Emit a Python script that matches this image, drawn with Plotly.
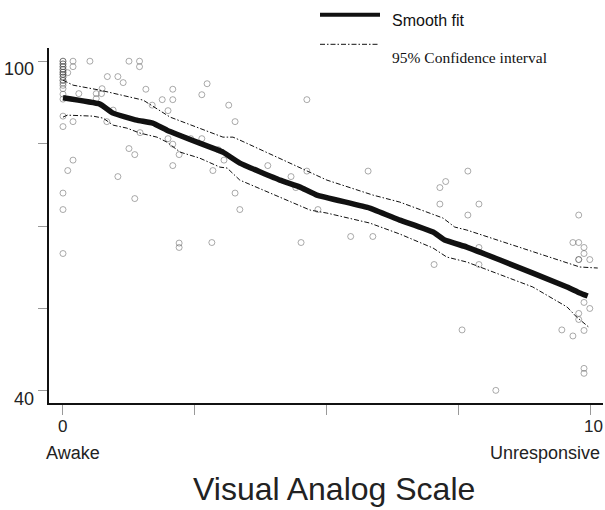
import plotly.graph_objects as go

# ---- data ----
pts_x = [0]*18 + [0]*8 + [
    0.19, 0.19, 0.09, 0.51, 1.25, 1.45, 1.45, 0.84, 1.04, 1.14, 0.74, 1.57, 2.08, 0.30, 0.63, 0.73,
    0.63, 1.88, 2.08, 1.69, 1.99, 0.95, 0.19, 0.83, 1.46, 1.99, 2.42, 2.63, 2.08, 1.25, 1.36, 2.20,
    0.19, 0.09, 2.08, 1.04, 2.73, 2.63, 3.14, 3.26, 2.94, 3.05, 2.84, 4.62, 3.88, 4.32, 4.62, 5.78,
    4.41, 3.26, 3.35, 2.82, 4.51, 4.83, 5.45, 5.87, 1.36, 2.20, 2.20, 7.67, 7.25, 7.14, 7.14, 7.88,
    7.67, 7.88, 7.03, 7.88, 9.77, 9.66, 9.77, 9.87, 9.87, 9.77, 9.77, 9.98, 9.87, 9.98, 9.77, 9.77,
    9.87, 9.45, 9.66, 7.56, 9.87, 9.87, 8.20]
pts_y = [100, 99.5, 99, 98.5, 98, 97.6, 97.1, 96.5, 96, 95.6, 95, 94, 93.1, 90, 88.1, 76, 73, 65,
         100, 99.5, 99, 98.5, 98, 97.6, 97.1, 96.5] + [
    100, 99.0, 97.9, 100, 100, 100, 99.0, 97.2, 97.2, 96.1, 95.0, 94.9, 94.9, 94.1, 94.1, 94.1,
    93.2, 93.0, 93.0, 92.0, 91.0, 91.1, 89.0, 89.0, 87.0, 85.9, 85.9, 85.9, 84.9, 84.1, 83.0, 83.0,
    82.0, 80.1, 81.0, 79.0, 95.9, 93.9, 92.0, 89.0, 83.9, 82.0, 80.1, 93.0, 81.0, 79.0, 80.0, 80.0,
    77.0, 76.0, 73.0, 67.0, 67.0, 73.0, 68.1, 68.1, 75.0, 66.9, 66.1, 80.0, 78.1, 77.0, 74.0, 74.0,
    72.0, 66.1, 63.0, 63.0, 72.0, 67.0, 67.0, 66.1, 65.0, 63.9, 63.9, 63.9, 56.1, 55.0, 54.1, 53.0,
    51.0, 51.1, 50.0, 51.1, 44.1, 43.2, 40.1]

fit_x = [0, 0.70, 0.95, 1.40, 1.70, 1.97, 2.59, 2.94, 3.03, 3.35, 4.11, 4.49, 4.81, 5.81, 6.38,
         7.01, 7.23, 7.65, 8.28, 9.55, 9.79, 9.94]
fit_y = [93.33, 92.18, 90.55, 89.27, 88.73, 87.45, 85.09, 83.82, 83.45, 81.45, 78.36, 77.09, 75.64,
         73.27, 71.09, 68.91, 67.45, 66.18, 63.82, 58.91, 57.82, 57.27]

up_x = [0, 0.19, 0.70, 1.52, 2.03, 2.59, 3.03, 3.22, 3.35, 5.0, 5.87, 6.38, 7.20, 7.42, 7.65, 9.79, 10.13]
up_y = [96.55, 95.64, 94.73, 92.91, 89.82, 87.82, 86.18, 86.18, 85.64, 78.36, 75.64, 74.36, 71.45,
        69.82, 69.27, 62.55, 62.36]

lo_x = [0, 0.08, 0.57, 0.76, 0.95, 1.21, 1.46, 1.78, 1.97, 2.22, 2.59, 2.97, 3.11, 3.35, 4.68, 5.0,
        5.81, 6.38, 7.01, 7.27, 7.65, 8.90, 9.55, 9.73, 9.98]
lo_y = [89.82, 90.18, 90.0, 89.64, 88.36, 87.82, 86.91, 86.18, 85.27, 83.45, 82.36, 80.73, 80.55,
        78.36, 72.91, 72.36, 70.55, 68.55, 66.0, 64.36, 63.45, 58.91, 55.27, 53.45, 51.45]

y_ticks = [40, 55, 70, 85, 100]
x_ticks = [0, 2.5, 5, 7.5, 10]

SANS = "Liberation Sans, Arial, sans-serif"
SERIF = "Liberation Serif, Times New Roman, serif"

fig = go.Figure()
fig.add_trace(go.Scatter(x=pts_x, y=pts_y, mode="markers",
                         marker=dict(symbol="circle-open", size=6, color="#444",
                                     opacity=0.5, line=dict(width=0.9)),
                         showlegend=False, hoverinfo="skip"))
dash = "5px,2px,1.5px,2px"
fig.add_trace(go.Scatter(x=up_x, y=up_y, mode="lines",
                         line=dict(color="#111", width=1, dash=dash), showlegend=False))
fig.add_trace(go.Scatter(x=lo_x, y=lo_y, mode="lines",
                         line=dict(color="#111", width=1, dash=dash), showlegend=False))
fig.add_trace(go.Scatter(x=fit_x, y=fit_y, mode="lines",
                         line=dict(color="#111", width=5.5, shape="spline", smoothing=0.3),
                         showlegend=False))

L, R, T, B = 49, 2, 48, 107
W, H = 605, 510
pw, ph = W - L - R, H - T - B


def px(xp):
    return (xp - L) / pw


def py(yp):
    return (H - B - yp) / ph


fig.update_layout(
    width=W, height=H,
    margin=dict(l=L, r=R, t=T, b=B, autoexpand=False),
    paper_bgcolor="white", plot_bgcolor="white",
    showlegend=False,
    xaxis=dict(range=[-0.265, 10.23], tickvals=x_ticks, ticktext=[""] * 5,
               ticks="outside", ticklen=10, tickcolor="#999", tickwidth=1,
               showline=True, linecolor="#111", linewidth=1.5,
               showgrid=False, zeroline=False),
    yaxis=dict(range=[37.8, 102.4], tickvals=y_ticks, ticktext=[""] * 5,
               ticks="outside", ticklen=9, tickcolor="#999", tickwidth=1,
               showline=True, linecolor="#111", linewidth=1.5,
               showgrid=False, zeroline=False),
    shapes=[
        dict(type="line", xref="paper", yref="paper", x0=px(320), x1=px(380), y0=py(14.7), y1=py(14.7),
             line=dict(color="#111", width=4)),
        dict(type="line", xref="paper", yref="paper", x0=px(320), x1=px(378), y0=py(44.3), y1=py(44.3),
             line=dict(color="#111", width=1, dash=dash)),
    ],
)

ann = []
# y tick labels
for v, t in [(100, "100"), (40, "40")]:
    ann.append(dict(xref="paper", yref="y", x=px(36), y=v, yshift=-8, text=t, showarrow=False,
                    xanchor="right", yanchor="middle", font=dict(family=SANS, size=18, color="#222")))
# x tick labels
ann.append(dict(xref="x", yref="paper", x=0, y=0, yshift=-23, text="0", showarrow=False,
                xanchor="center", yanchor="middle", font=dict(family=SANS, size=17, color="#222")))
ann.append(dict(xref="x", yref="paper", x=10, y=0, xshift=3, yshift=-23, text="10", showarrow=False,
                xanchor="center", yanchor="middle", font=dict(family=SANS, size=17, color="#222")))
ann.append(dict(xref="paper", yref="paper", x=px(44), y=0, yshift=-50, text="Awake", showarrow=False,
                xanchor="left", yanchor="middle", font=dict(family=SANS, size=18, color="#222")))
ann.append(dict(xref="paper", yref="paper", x=px(602), y=0, yshift=-50, text="Unresponsive",
                showarrow=False, xanchor="right", yanchor="middle",
                font=dict(family=SANS, size=18, color="#222")))
ann.append(dict(xref="paper", yref="paper", x=px(334), y=0, yshift=-86, text="Visual Analog Scale",
                showarrow=False, xanchor="center", yanchor="middle",
                font=dict(family=SANS, size=32, color="#222")))
# legend texts
ann.append(dict(xref="paper", yref="paper", x=px(390), y=py(20), text="Smooth fit", showarrow=False,
                xanchor="left", yanchor="middle", font=dict(family=SANS, size=16, color="#111")))
ann.append(dict(xref="paper", yref="paper", x=px(390), y=py(58), text="95% Confidence interval",
                showarrow=False, xanchor="left", yanchor="middle",
                font=dict(family=SERIF, size=15.5, color="#111")))
fig.update_layout(annotations=ann)

fig.write_html("out.html", config={"displayModeBar": False},
               post_script="document.body.style.margin='0';document.body.style.overflow='hidden';")
